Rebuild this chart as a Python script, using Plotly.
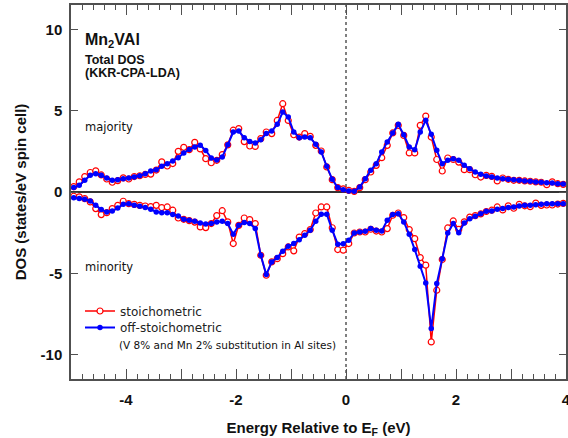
import plotly.graph_objects as go

# Energy grid (eV, relative to E_F), 0.1 eV spacing
energy = [round(-4.95 + 0.1 * k, 2) for k in range(90)]

maj_stoich = [0.33, 0.62, 0.95, 1.2, 1.3, 1.05, 0.8, 0.6, 0.7, 0.87,
              0.8, 0.95, 1.0, 1.08, 1.1, 1.35, 1.85, 1.6, 1.75, 2.5,
              2.75, 2.6, 3.05, 2.65, 2.05, 1.8, 1.95, 2.3, 2.9, 3.8,
              3.9, 3.1, 2.83, 2.8, 3.28, 3.69, 3.59, 4.4, 5.43, 4.4,
              3.52, 3.38, 3.59, 3.42, 2.87, 2.52, 1.54, 0.76, 0.27, 0.19,
              0.1, 0.04, 0.27, 0.76, 1.23, 1.64, 2.11, 2.87, 3.63, 4.1,
              3.48, 2.4, 2.4, 4.1, 4.67, 3.38, 2.0, 1.29, 2.09, 2.0,
              1.84, 1.37, 1.37, 1.06, 0.92, 1.02, 0.96, 0.68, 0.86, 0.78,
              0.72, 0.72, 0.68, 0.66, 0.62, 0.6, 0.45, 0.62, 0.51, 0.47]

maj_offstoich = [0.27, 0.41, 0.72, 1.03, 1.13, 1.03, 0.86, 0.72, 0.76, 0.82,
                 0.86, 0.92, 1.0, 1.13, 1.29, 1.37, 1.58, 1.74, 1.91, 2.11,
                 2.4, 2.62, 2.77, 2.88, 2.55, 2.09, 1.97, 2.15, 2.9, 3.69,
                 3.75, 3.34, 3.11, 3.01, 3.22, 3.59, 3.75, 4.16, 4.92, 4.61,
                 3.69, 3.34, 3.38, 3.34, 2.93, 2.46, 1.58, 0.78, 0.27, 0.14,
                 0.06, 0.04, 0.31, 0.82, 1.33, 1.74, 2.46, 3.07, 3.63, 4.16,
                 3.52, 2.77, 2.6, 3.69, 4.41, 3.55, 2.56, 1.74, 1.95, 2.05,
                 1.95, 1.64, 1.43, 1.23, 1.09, 0.98, 0.92, 0.86, 0.82, 0.78,
                 0.76, 0.72, 0.68, 0.66, 0.62, 0.6, 0.57, 0.55, 0.51, 0.49]

min_stoich = [-0.26, -0.3, -0.41, -0.61, -1.02, -1.39, -1.27, -1.02, -0.82, -0.57,
              -0.72, -0.76, -0.82, -0.86, -0.9, -0.82, -0.96, -0.92, -1.12, -1.6,
              -1.68, -1.76, -1.85, -2.15, -2.19, -1.94, -1.45, -1.15, -1.84, -3.17,
              -2.05, -1.6, -1.7, -1.94, -3.89, -5.12, -4.3, -4.1, -3.79, -3.38,
              -3.62, -2.77, -2.56, -2.31, -1.29, -0.92, -0.92, -2.2, -3.54, -3.58,
              -3.17, -2.52, -2.46, -2.46, -2.29, -2.4, -2.46, -2.25, -1.43, -1.29,
              -1.57, -2.31, -2.87, -4.03, -4.5, -9.22, -6.04, -4.15, -2.21, -1.78,
              -2.3, -1.84, -1.54, -1.45, -1.35, -1.2, -1.12, -0.92, -1.1, -0.85,
              -1.0, -0.76, -0.85, -0.9, -0.68, -0.82, -0.8, -0.8, -0.74, -0.7]

min_offstoich = [-0.35, -0.4, -0.45, -0.55, -0.82, -1.08, -1.23, -1.17, -0.98, -0.76,
                 -0.72, -0.82, -0.88, -0.96, -1.06, -1.23, -1.27, -1.27, -1.39, -1.47,
                 -1.68, -1.74, -1.8, -1.9, -1.97, -1.94, -1.85, -1.8, -1.94, -2.6,
                 -2.05, -1.88, -1.94, -2.25, -3.89, -5.08, -4.3, -4.03, -3.64, -3.34,
                 -3.17, -2.93, -2.66, -2.35, -1.8, -1.37, -1.37, -2.35, -3.21, -3.19,
                 -2.97, -2.52, -2.46, -2.42, -2.25, -2.35, -2.4, -1.74, -1.39, -1.33,
                 -1.84, -2.6, -3.54, -4.57, -5.59, -8.4, -5.63, -4.1, -2.52, -1.94,
                 -2.5, -1.9, -1.64, -1.49, -1.33, -1.19, -1.17, -1.06, -1.02, -0.96,
                 -0.92, -0.86, -0.82, -0.82, -0.78, -0.76, -0.72, -0.72, -0.72, -0.72]

x_tickvals = [-5, -4, -3, -2, -1, 0, 1, 2, 3, 4]
x_ticktext = [" ", "-4", " ", "-2", " ", "0", " ", "2", " ", "4"]
y_tickvals = [-10, -5, 0, 5, 10]
y_ticktext = ["-10", "-5", "0", "5", "10"]

RED = "#ff0000"
BLUE = "#0000ff"
AXC = "#505050"
BOLD = "Liberation Sans, Arial, sans-serif"
REG = "DejaVu Sans, Verdana, sans-serif"

L, R, T, B = 71, 2, 5, 59
W, H = 568, 438


def px_x(px):
    return (px - L) / (W - L - R)


def px_y(py):
    return (H - B - py) / (H - T - B)


red_marker = dict(symbol="circle", size=6, color="white", line=dict(color=RED, width=1.2))
blue_marker = dict(symbol="circle", size=5.5, color=BLUE)

fig = go.Figure()
fig.add_trace(go.Scatter(x=energy, y=maj_stoich, mode="lines+markers", name="stoichometric",
                         line=dict(color=RED, width=1.5), marker=red_marker,
                         legend="legend", hoverinfo="skip"))
fig.add_trace(go.Scatter(x=energy, y=min_stoich, mode="lines+markers", name="stoichometric",
                         line=dict(color=RED, width=1.5), marker=red_marker,
                         showlegend=False, hoverinfo="skip"))
fig.add_trace(go.Scatter(x=energy, y=maj_offstoich, mode="lines+markers", name="off-stoichometric",
                         line=dict(color=BLUE, width=2), marker=blue_marker,
                         legend="legend2", hoverinfo="skip"))
fig.add_trace(go.Scatter(x=energy, y=min_offstoich, mode="lines+markers", name="off-stoichometric",
                         line=dict(color=BLUE, width=2), marker=blue_marker,
                         showlegend=False, hoverinfo="skip"))

fig.add_shape(type="line", xref="x", yref="paper", x0=0, x1=0, y0=0, y1=1,
              line=dict(color="black", width=1, dash="3px,3px"), layer="below")

legend_common = dict(xanchor="left", yanchor="middle", bgcolor="rgba(0,0,0,0)",
                     font=dict(family=REG, size=12, color="#222"), itemwidth=30,
                     borderwidth=0)

fig.update_layout(
    width=W, height=H,
    margin=dict(l=L, r=R, t=T, b=B, autoexpand=False),
    paper_bgcolor="white", plot_bgcolor="white",
    showlegend=True,
    legend=dict(x=px_x(80), y=px_y(311), **legend_common),
    legend2=dict(x=px_x(80), y=px_y(327.5), **legend_common),
    xaxis=dict(range=[-5, 4], tickmode="array", tickvals=x_tickvals, ticktext=x_ticktext,
               ticks="inside", ticklen=10, tickwidth=1, tickcolor=AXC,
               minor=dict(tickmode="linear", tick0=-5, dtick=0.2, ticks="inside",
                          ticklen=5, tickcolor=AXC, tickwidth=1),
               showline=True, linecolor=AXC, linewidth=1.5, mirror="ticks",
               showgrid=False, zeroline=False, automargin=False,
               ticklabeloverflow="allow",
               tickfont=dict(family=BOLD, size=15, color="#111", weight="bold"),
               ticklabelstandoff=6,
               title=dict(text="Energy Relative to E<sub>F</sub> (eV)",
                          font=dict(family=BOLD, size=15, color="#111", weight="bold"),
                          standoff=18)),
    yaxis=dict(range=[-11.5, 11.5], tickmode="array", tickvals=y_tickvals, ticktext=y_ticktext,
               ticks="inside", ticklen=7, tickwidth=1, tickcolor=AXC,
               showline=True, linecolor=AXC, linewidth=1.5, mirror="ticks",
               showgrid=False, zeroline=True, zerolinecolor="#333333", zerolinewidth=1.5,
               automargin=False, ticklabeloverflow="allow",
               tickfont=dict(family=BOLD, size=15, color="#111", weight="bold"),
               ticklabelstandoff=4,
               title=dict(text="DOS (states/eV spin cell)",
                          font=dict(family=BOLD, size=15, color="#111", weight="bold"),
                          standoff=10)),
)

annotations = [
    dict(text="<b>Mn<sub>2</sub>VAl</b>", x=83, y=40, size=16, family=BOLD),
    dict(text="<b>Total DOS</b>", x=83, y=60, size=12.5, family=BOLD),
    dict(text="<b>(KKR-CPA-LDA)</b>", x=83, y=73, size=12.5, family=BOLD),
    dict(text="majority", x=83, y=127, size=11.5, family=REG),
    dict(text="minority", x=83, y=267, size=11.5, family=REG),
    dict(text="(V 8% and Mn 2% substitution in Al sites)", x=117, y=345, size=10.5, family=REG),
]
for a in annotations:
    fig.add_annotation(
        text=a["text"], showarrow=False, xanchor="left", yanchor="middle",
        xref="paper", yref="paper", x=px_x(a["x"]), y=px_y(a["y"]),
        font=dict(family=a["family"], size=a["size"], color="#111"))

fig.write_html("out.html", config={"displayModeBar": False},
               post_script="document.body.style.margin='0px';")
